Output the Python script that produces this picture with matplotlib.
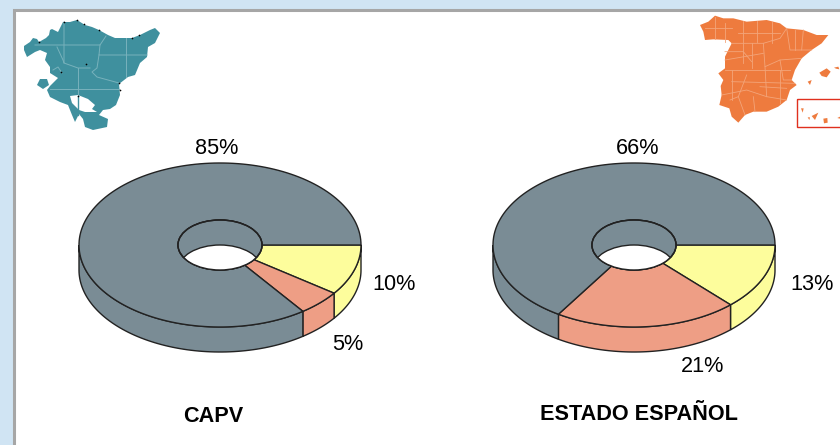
#!/usr/bin/env python3
import numpy as np
import matplotlib
matplotlib.use("Agg")
import matplotlib.pyplot as plt
from matplotlib.patches import Polygon, Rectangle, Ellipse

plt.rcParams["font.family"] = ["Liberation Sans", "DejaVu Sans"]

TITLES = ["CAPV", "ESTADO ESPAÑOL"]
# yellow, salmon, grey - clockwise from 3 o'clock
CAPV_VALUES = [10, 5, 85]
ESTADO_VALUES = [13, 21, 66]
COLORS = ["#fdfd9c", "#ee9e85", "#7a8c95"]
EDGE = "#222222"

# map outlines, in pixels
BASQUE = [(24, 46), (30, 42), (33, 38), (37, 39), (39, 42), (46, 38), (49, 35), (50, 30), (52, 29),
          (58, 32), (63, 22), (70, 22), (77, 20), (85, 25), (92, 27), (99, 30), (108, 35), (115, 38),
          (123, 38), (132, 38), (140, 35), (150, 30), (155, 28), (160, 33), (155, 43), (148, 47),
          (147, 57), (140, 63), (135, 75), (128, 77), (119, 84), (120, 95), (116, 105), (110, 109),
          (103, 110), (99, 115), (108, 119), (107, 127), (93, 130), (85, 127), (83, 119), (79, 114),
          (75, 122), (72, 115), (68, 105), (60, 102), (50, 97), (47, 90), (50, 86), (58, 78),
          (50, 73), (50, 67), (45, 60), (47, 53), (40, 50), (35, 52), (27, 57), (24, 50)]
BASQUE_ISLAND = [(37, 85), (40, 79), (47, 79), (49, 85), (43, 89)]
BASQUE_HOLE = [(70, 96), (78, 95), (88, 99), (95, 105), (92, 109), (97, 112), (85, 112), (79, 110), (72, 103)]
BASQUE_DOTS = [(39, 42), (64, 22), (77, 20), (84, 24), (99, 30), (132, 37.5), (139, 35), (61, 72),
               (86, 64), (119, 83), (120, 90), (77.5, 95.5)]
BASQUE_LINES = [[(35, 45), (100, 45), (106, 36)], [(64, 22), (64, 63), (78, 68), (90, 68)],
                [(100, 45), (99, 55), (147, 55)], [(126, 38), (126, 77)],
                [(99, 55), (97, 68), (92, 72), (97, 77), (119, 83)],
                [(50, 89), (119, 89)], [(78, 68), (78, 95)],
                [(57, 47), (63, 60), (64, 63)], [(53, 70), (58, 67), (62, 73)]]
BASQUE_STEM = [(78.3, 96), (78.3, 115)]
# Spain, in a 3x crop
SPAIN = [(60, 75), (85, 65), (105, 47), (130, 55), (160, 55), (200, 65), (260, 60), (300, 70),
         (320, 85), (370, 90), (410, 105), (445, 105), (425, 130), (395, 150), (365, 175),
         (345, 210), (335, 240), (350, 255), (330, 270), (320, 300), (295, 320), (260, 335),
         (220, 335), (195, 345), (175, 368), (155, 350), (148, 325), (118, 315), (125, 285),
         (122, 258), (130, 240), (115, 220), (135, 205), (135, 170), (155, 130), (145, 120),
         (100, 118), (75, 120), (70, 95)]
SPAIN_ISLES = [[(418, 218), (440, 205), (452, 215), (440, 232), (425, 228)],
               [(462, 203), (475, 200), (478, 208), (468, 206)],
               [(383, 245), (395, 240), (390, 255)],
               [(363, 325), (371, 325), (368, 338)],
               [(395, 348), (415, 338), (405, 360)],
               [(430, 356), (442, 354), (443, 368), (432, 370)],
               [(383, 352), (390, 352), (388, 360)],
               [(472, 354), (480, 350), (480, 356)]]
SPAIN_LINES = [[(105, 50), (105, 118)], [(75, 85), (155, 85)], [(135, 70), (135, 125)],
               [(190, 62), (190, 190)], [(155, 130), (250, 130), (300, 115), (320, 85)],
               [(230, 62), (230, 125)], [(135, 155), (190, 155), (215, 185)],
               [(250, 130), (255, 200), (300, 180), (365, 175)], [(320, 85), (330, 150), (395, 150)],
               [(370, 90), (365, 150)], [(135, 210), (330, 210)], [(255, 200), (260, 290), (320, 300)],
               [(125, 285), (200, 270), (260, 290)], [(200, 225), (175, 290), (195, 345)],
               [(150, 300), (175, 290)], [(220, 290), (225, 335)], [(300, 180), (310, 240), (335, 240)],
               [(175, 100), (300, 100)], [(135, 180), (250, 160)], [(155, 245), (345, 250)],
               [(275, 65), (275, 130)], [(345, 90), (345, 150)], [(215, 130), (215, 205)],
               [(155, 210), (155, 300)], [(300, 210), (300, 310)], [(240, 260), (320, 265)]]


def ring_point(cx, cy, rx, ry, t):
    return np.column_stack([cx + rx * np.cos(t), cy + ry * np.sin(t)])


def donut(ax, cx, cy, values):
    rx, ry, hx, hy, depth = 141, 82, 42, 25, 25
    edges = np.radians(np.cumsum([0] + values) * 3.6)
    # outer wall, only the near half shows
    for i, col in enumerate(COLORS):
        t0, t1 = edges[i], min(edges[i + 1], np.pi)
        if t0 >= np.pi:
            continue
        t = np.linspace(t0, t1, 80)
        top = ring_point(cx, cy, rx, ry, t)
        low = top + [0, depth]
        ax.add_patch(Polygon(np.vstack([top, low[::-1]]), fc=col, ec=EDGE, lw=1.0, zorder=2))
    # top face
    for i, col in enumerate(COLORS):
        t = np.linspace(edges[i], edges[i + 1], 160)
        pts = np.vstack([ring_point(cx, cy, rx, ry, t), ring_point(cx, cy, hx, hy, t[::-1])])
        ax.add_patch(Polygon(pts, fc=col, ec=EDGE, lw=1.0, zorder=3))
    # hole: far inner wall in grey, see-through part in white
    hole = Ellipse((cx, cy), 2 * hx, 2 * hy, fc=COLORS[2], ec=EDGE, lw=1.0, zorder=4)
    ax.add_patch(hole)
    gap = Ellipse((cx, cy + depth), 2 * hx, 2 * hy, fc="white", ec=EDGE, lw=1.0, zorder=5)
    ax.add_patch(gap)
    gap.set_clip_path(hole)
    ax.add_patch(Ellipse((cx, cy), 2 * hx, 2 * hy, fc="none", ec=EDGE, lw=1.0, zorder=6))


def crop(pts, x0, y0=0):
    return [(x0 + x / 3, y0 + y / 3) for x, y in pts]


fig = plt.figure(figsize=(8.4, 4.45), dpi=100, facecolor="#d0e4f3")
ax = fig.add_axes([0, 0, 1, 1])
ax.set_xlim(0, 840)
ax.set_ylim(445, 0)
ax.axis("off")

ax.add_patch(Rectangle((13.5, 9.5), 900, 500, fc="white", ec="#a6a6a6", lw=2.2, zorder=0))

# Basque country
teal = "#3f909e"
ax.add_patch(Polygon(BASQUE, fc=teal, ec="none", zorder=1))
ax.add_patch(Polygon(BASQUE_ISLAND, fc=teal, ec="none", zorder=1))
ax.add_patch(Polygon(BASQUE_HOLE, fc="white", ec="none", zorder=1.1))
ax.plot(*zip(*BASQUE_STEM), color=teal, lw=1, zorder=1.2)
for line in BASQUE_LINES:
    ax.plot(*zip(*line), color="#78b2bc", lw=0.7, zorder=1.3)
ax.scatter(*zip(*BASQUE_DOTS), s=1.5, color="black", linewidths=0, zorder=1.4)

# Spain
orange = "#ee7b3e"
ax.add_patch(Polygon(crop(SPAIN, 680), fc=orange, ec="none", zorder=1))
for isle in SPAIN_ISLES:
    ax.add_patch(Polygon(crop(isle, 680), fc=orange, ec="none", zorder=1))
for line in SPAIN_LINES:
    ax.plot(*zip(*crop(line, 680)), color="#f3a57a", lw=0.6, zorder=1.3)
ax.add_patch(Rectangle((796.5, 99), 60, 28, fc="none", ec="#e0301e", lw=1.0, zorder=1.4))

donut(ax, 220, 245, CAPV_VALUES)
donut(ax, 634, 245, ESTADO_VALUES)

fs = 15.6
ax.text(217, 148, f"{CAPV_VALUES[2]}%", fontsize=fs, ha="center", va="center")
ax.text(394, 285, f"{CAPV_VALUES[0]}%", fontsize=fs, ha="center", va="center")
ax.text(348, 344, f"{CAPV_VALUES[1]}%", fontsize=fs, ha="center", va="center")
ax.text(638, 148, f"{ESTADO_VALUES[2]}%", fontsize=fs, ha="center", va="center")
ax.text(812, 285, f"{ESTADO_VALUES[0]}%", fontsize=fs, ha="center", va="center")
ax.text(703, 367, f"{ESTADO_VALUES[1]}%", fontsize=fs, ha="center", va="center")
ax.text(213, 417, TITLES[0], fontsize=15.6, fontweight="bold", ha="center", va="center")
ax.text(639, 415, TITLES[1], fontsize=15.6, fontweight="bold", ha="center", va="center")

plt.savefig("out.png", dpi=100, facecolor=fig.get_facecolor())
plt.close()
